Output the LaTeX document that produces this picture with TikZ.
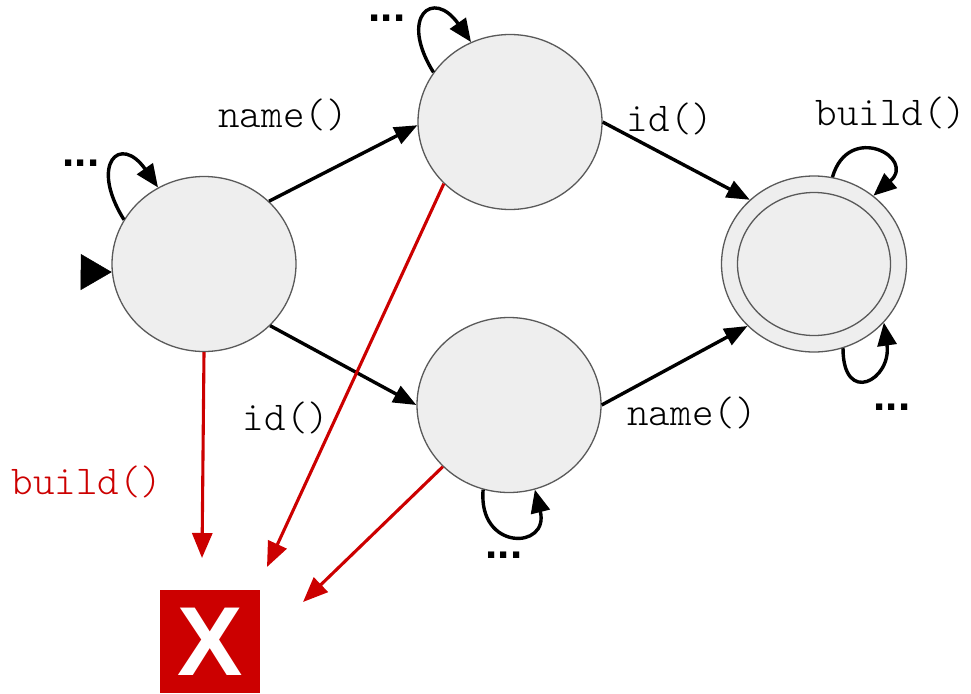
\documentclass[tikz,border=0pt]{standalone}
\usepackage{fontspec}
\setmonofont{Latin Modern Mono Light}
\newfontfamily\headfont{Liberation Sans}
\usetikzlibrary{arrows.meta,shapes.geometric}
\definecolor{statefill}{HTML}{EEEEEE}
\definecolor{stateline}{HTML}{595959}
\definecolor{errred}{HTML}{CC0000}

\begin{document}
\begin{tikzpicture}[
    x=1pt, y=1pt,
    state/.style={ellipse, draw=stateline, line width=1.3pt, fill=statefill, inner sep=0pt, minimum width=184pt, minimum height=175pt},
    final/.style={state, minimum width=185pt, minimum height=176pt},
    innerring/.style={ellipse, draw=stateline, line width=1.3pt, inner sep=0pt, minimum width=153pt, minimum height=143pt},
    errbox/.style={rectangle, fill=errred, text=white, inner sep=0pt, minimum width=100pt, minimum height=103pt, font=\fontsize{98}{100}\selectfont\headfont\bfseries},
    trans/.style={line width=3.4pt, -{Triangle[length=23pt,width=18pt]}},
    selfloop/.style={line width=3.4pt, -{Triangle[length=23pt,width=19pt]}},
    fail/.style={draw=errred, line width=3.1pt, -{Triangle[length=25pt,width=20pt]}},
    startmark/.style={line width=0.5pt, -{Triangle[length=31pt,width=36pt]}},
    method/.style={anchor=base, inner sep=0pt, font=\fontsize{41}{44}\selectfont\ttfamily},
    more/.style={inner sep=0pt, font=\fontsize{44}{48}\selectfont\headfont\bfseries}
]
\useasboundingbox (0,0) rectangle (971,-693);

% states
\node[state] (s0) at (204,-264) {};
\node[state] (s1) at (510,-122) {};
\node[state] (s2) at (509,-405) {};
\node[final] (s3) at (814,-264) {};
\node[innerring] (s3in) at (s3.center) {};
\node[errbox] (err) at (210,-641.5) {X};

\coordinate (init) at (81,-272);
\draw[startmark] (init) -- (s0.185);

% transitions
\draw[trans] (s0.44) -- (s1.182);
\draw[trans] (s0.317) -- (s2.west);
\draw[trans] (s1.east) -- (s3.135);
\draw[trans] (s2.east) -- (s3.223);

\draw[selfloop] (s0.151) to[out=122, in=125, distance=66pt] (s0.121);
\draw[selfloop] (s1.147) to[out=122, in=125, distance=66pt] (s1.116);
\draw[selfloop] (s3.78) to[out=74, in=41, distance=58pt] (s3.49);
\draw[selfloop] (s3.289) to[out=-90, in=-82, distance=58pt] (s3.320);
\draw[selfloop] (s2.253) to[out=-95, in=-76, distance=62pt] (s2.287);

% invalid calls
\coordinate (e0) at (202,-558);
\coordinate (e1) at (267,-567);
\coordinate (e2) at (303,-602);
\draw[fail] (s0.south) -- (e0);
\draw[fail] (s1.223) -- (e1);
\draw[fail] (s2.223) -- (e2);

% labels
\node[method] (l01) at (283,-127) {name()};
\node[method] (l13) at (670,-131) {id()};
\node[method] (l33) at (891,-125) {build()};
\node[method] (l02) at (286,-430) {id()};
\node[method] (l23) at (692,-425) {name()};
\node[method, text=errred] (lerr) at (87,-494) {build()};

\node[more] (d0) at (81,-163) {...};
\node[more] (d1) at (387,-18) {...};
\node[more] (d3) at (892,-407) {...};
\node[more] (d2) at (504,-555) {...};
\end{tikzpicture}
\end{document}
